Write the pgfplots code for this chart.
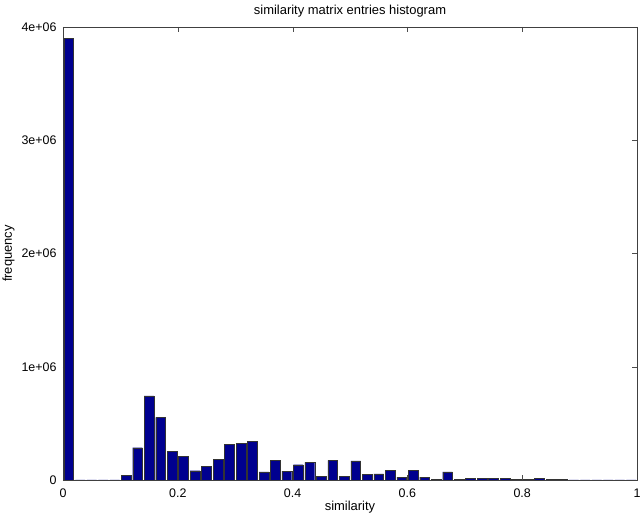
\documentclass[border=0pt]{standalone}
\usepackage{fontspec}
\setmainfont{Liberation Sans}
\usepackage{pgfplots}
\pgfplotsset{compat=1.18}
\usetikzlibrary{calc}
\definecolor{histblue}{rgb}{0,0,0.5625}

\begin{document}
\begin{tikzpicture}
\begin{axis}[
  scale only axis,
  width=574bp, height=453bp,
  xmin=0, xmax=1, ymin=0, ymax=4e6,
  ybar, bar width=0.017, bar shift=0pt,
  xtick={0,0.2,0.4,0.6,0.8,1},
  xticklabels={0,0.2,0.4,0.6,0.8,1},
  ytick={0,1e6,2e6,3e6,4e6},
  yticklabels={0,1e+06,2e+06,3e+06,4e+06},
  scaled ticks=false,
  tick align=inside,
  major tick length=5bp,
  tick style={black!70},
  axis line style={black!75},
  /pgf/number format/assume math mode=true,
  ticklabel style={font=\fontsize{12.5}{14}\selectfont},
  xticklabel style={yshift=-5bp},
  yticklabel style={xshift=-3bp},
  xlabel={similarity}, ylabel={frequency},
  label style={font=\fontsize{13}{15}\selectfont},
  title={similarity matrix entries histogram},
  title style={font=\fontsize{13}{15}\selectfont, at={(axis description cs:0.5,1.022)}, anchor=center},
  xlabel style={at={(axis description cs:0.5,-0.059)}, anchor=center},
  ylabel style={at={(axis description cs:-0.095,0.5)}, anchor=center},
]
\addplot[fill=histblue, draw=black!80, line width=0.4pt] coordinates {
  (0.01,3900000) (0.03,0) (0.05,0) (0.07,0) (0.09,0)
  (0.11,40000) (0.13,285000) (0.15,742000) (0.17,553000) (0.19,250000)
  (0.21,209000) (0.23,82000) (0.25,118000) (0.27,185000) (0.29,315000)
  (0.31,324000) (0.33,342000) (0.35,71000) (0.37,174000) (0.39,79000)
  (0.41,135000) (0.43,156000) (0.45,35000) (0.47,174000) (0.49,35000)
  (0.51,168000) (0.53,50000) (0.55,53000) (0.57,85000) (0.59,26000)
  (0.61,85000) (0.63,25000) (0.65,4000) (0.67,72000) (0.69,8000)
  (0.71,16000) (0.73,16000) (0.75,15000) (0.77,13000) (0.79,5000)
  (0.81,4000) (0.83,13000) (0.85,5000) (0.87,4000) (0.89,2000)
  (0.91,2000) (0.93,1000) (0.95,1000) (0.97,1000) (0.99,2000)
};
\end{axis}
\pgfresetboundingbox
\path ($(current axis.south west)+(-63bp,-43bp)$) rectangle ($(current axis.north east)+(3bp,27bp)$);
\end{tikzpicture}
\end{document}
